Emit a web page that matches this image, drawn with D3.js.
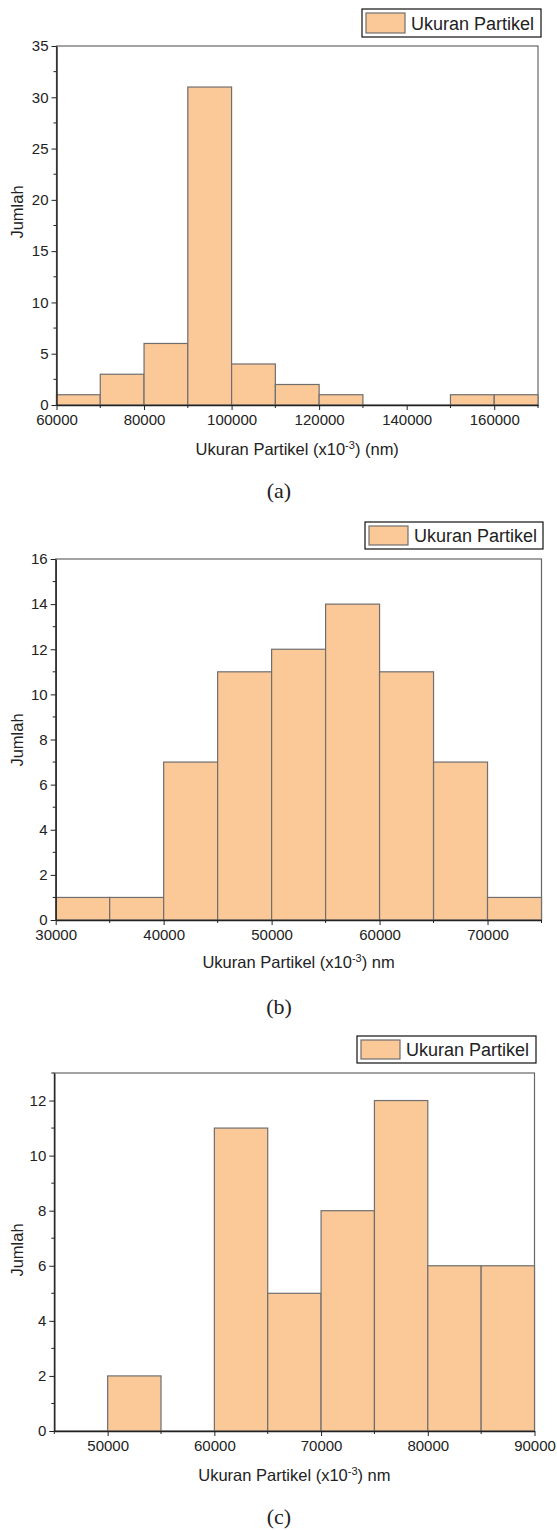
<!DOCTYPE html>
<html>
<head>
<meta charset="utf-8">
<script src="https://cdn.jsdelivr.net/npm/d3@7"></script>
<style>
  body { margin: 0; background: #fff; }
  svg text { font-family: Arial, "Liberation Sans", sans-serif; fill: #222; }
</style>
</head>
<body>
<svg id="chart" width="557" height="1530"></svg>
<script>
// histogram (a)
const binsA = [60000, 70000, 80000, 90000, 100000, 110000, 120000, 130000, 140000, 150000, 160000];
const countsA = [1, 3, 6, 31, 4, 2, 1, 0, 0, 1, 1];
const xTicksA = [60000, 80000, 100000, 120000, 140000, 160000];
const yTicksA = [0, 5, 10, 15, 20, 25, 30, 35];

// histogram (b)
const binsB = [30000, 35000, 40000, 45000, 50000, 55000, 60000, 65000, 70000];
const countsB = [1, 1, 7, 11, 12, 14, 11, 7, 1];
const xTicksB = [30000, 40000, 50000, 60000, 70000];
const yTicksB = [0, 2, 4, 6, 8, 10, 12, 14, 16];

// histogram (c)
const binsC = [45000, 50000, 55000, 60000, 65000, 70000, 75000, 80000, 85000];
const countsC = [0, 2, 0, 11, 5, 8, 12, 6, 6];
const xTicksC = [50000, 60000, 70000, 80000, 90000];
const yTicksC = [0, 2, 4, 6, 8, 10, 12];

const legendLabel = "Ukuran Partikel";
const yTitle = "Jumlah";

const svg = d3.select("#chart");

const panels = [
  { bins: binsA, counts: countsA, width: 10000, xDomain: [60000, 170000], yDomain: [0, 35],
    xTicks: xTicksA, xMinor: 10000, yTicks: yTicksA, yMinor: 2.5,
    left: 56.5, right: 538, top: 46, bottom: 405,
    legend: { x: 362, y: 9, w: 179, h: 28 }, titleY: 455, yTitleY: 212, suffix: " (nm)", capY: 498, cap: "(a)" },
  { bins: binsB, counts: countsB, width: 5000, xDomain: [30000, 75000], yDomain: [0, 16],
    xTicks: xTicksB, xMinor: 5000, yTicks: yTicksB, yMinor: 1,
    left: 55.7, right: 541.5, top: 559, bottom: 920,
    legend: { x: 365, y: 522, w: 178, h: 27 }, titleY: 968, yTitleY: 740, suffix: " nm", capY: 1014, cap: "(b)" },
  { bins: binsC, counts: countsC, width: 5000, xDomain: [45000, 90000], yDomain: [0, 13],
    xTicks: xTicksC, xMinor: 5000, yTicks: yTicksC, yMinor: 1,
    left: 54.3, right: 534.5, top: 1073, bottom: 1431,
    legend: { x: 357, y: 1036, w: 179, h: 27 }, titleY: 1481, yTitleY: 1250, suffix: " nm", capY: 1524, cap: "(c)" }
];

panels.forEach(p => {
  const x = d3.scaleLinear().domain(p.xDomain).range([p.left, p.right]);
  const y = d3.scaleLinear().domain(p.yDomain).range([p.bottom, p.top]);
  const g = svg.append("g");

  // frame
  g.append("rect")
    .attr("x", p.left).attr("y", p.top)
    .attr("width", p.right - p.left).attr("height", p.bottom - p.top)
    .attr("fill", "none").attr("stroke", "#666").attr("stroke-width", 1.2);

  // bars
  const data = p.bins.map((b, i) => ({ x0: b, x1: b + p.width, n: p.counts[i] }));
  g.selectAll("rect.bar")
    .data(data.filter(d => d.n > 0))
    .enter()
    .append("rect")
    .attr("class", "bar")
    .attr("x", d => x(d.x0))
    .attr("y", d => y(d.n))
    .attr("width", d => x(d.x1) - x(d.x0))
    .attr("height", d => y(0) - y(d.n))
    .attr("fill", "#fbc898")
    .attr("stroke", "#6f6f6f")
    .attr("stroke-width", 1.2);

  // minor ticks
  const xMinor = d3.range(p.xDomain[0], p.xDomain[1] + 1, p.xMinor).filter(v => !p.xTicks.includes(v));
  const yMinor = d3.range(p.yDomain[0], p.yDomain[1] + 0.001, p.yMinor).filter(v => !p.yTicks.includes(v));

  const xAxis = g.append("g")
    .attr("transform", `translate(0,${p.bottom})`)
    .call(d3.axisBottom(x).tickValues(p.xTicks).tickFormat(d3.format("d")).tickSizeInner(5).tickSizeOuter(0).tickPadding(4));
  xAxis.append("g").selectAll("line").data(xMinor).enter().append("line")
    .attr("x1", d => x(d)).attr("x2", d => x(d)).attr("y1", 0).attr("y2", 3)
    .attr("stroke", "#222");

  const yAxis = g.append("g")
    .attr("transform", `translate(${p.left},0)`)
    .call(d3.axisLeft(y).tickValues(p.yTicks).tickSizeInner(5).tickSizeOuter(0).tickPadding(3));
  yAxis.append("g").selectAll("line").data(yMinor).enter().append("line")
    .attr("y1", d => y(d)).attr("y2", d => y(d)).attr("x1", 0).attr("x2", -3)
    .attr("stroke", "#222");

  [xAxis, yAxis].forEach(a => {
    a.select(".domain").attr("stroke", "#222").attr("stroke-width", 1.4);
    a.selectAll(".tick line").attr("stroke", "#222");
    a.selectAll("text").attr("font-size", 15).attr("fill", "#222")
      .attr("font-family", "Arial, 'Liberation Sans', sans-serif");
  });

  // axis titles
  const t = g.append("text")
    .attr("x", (p.left + p.right) / 2).attr("y", p.titleY)
    .attr("text-anchor", "middle").attr("font-size", 16.5);
  t.append("tspan").text("Ukuran Partikel (x10");
  t.append("tspan").attr("dy", -6).attr("font-size", 11).text("-3");
  t.append("tspan").attr("dy", 6).text(")" + p.suffix);

  g.append("text")
    .attr("transform", `translate(23,${p.yTitleY}) rotate(-90)`)
    .attr("text-anchor", "middle").attr("font-size", 16.5)
    .text(yTitle);

  // legend
  const L = p.legend;
  g.append("rect").attr("x", L.x).attr("y", L.y).attr("width", L.w).attr("height", L.h)
    .attr("fill", "#fff").attr("stroke", "#111").attr("stroke-width", 1.2);
  g.append("rect").attr("x", L.x + 4).attr("y", L.y + 4).attr("width", 39).attr("height", L.h - 8)
    .attr("fill", "#fbc898").attr("stroke", "#6f6f6f").attr("stroke-width", 1.2);
  g.append("text").attr("x", L.x + 49).attr("y", L.y + L.h / 2 + 6.5)
    .attr("font-size", 18).text(legendLabel);

  // caption
  g.append("text")
    .attr("x", 279).attr("y", p.capY)
    .attr("text-anchor", "middle").attr("font-size", 22)
    .style("font-family", "'Times New Roman', 'Liberation Serif', serif")
    .text(p.cap);
});
</script>
</body>
</html>
